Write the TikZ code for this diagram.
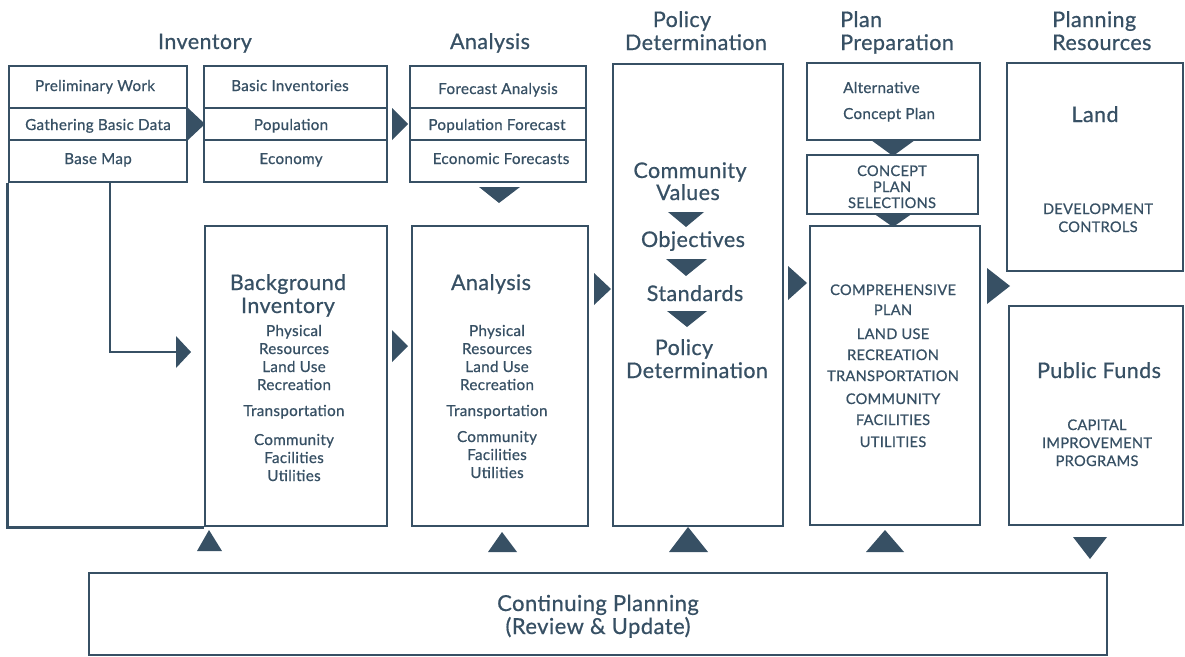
\documentclass[tikz,border=0pt]{standalone}
\usepackage{fontspec}
\setmainfont{Lato}[FakeBold=0.7, LetterSpace=2]
\definecolor{ink}{RGB}{55,80,100}
\begin{document}
\begin{tikzpicture}[x=1pt,y=-1pt,
  bx/.style={draw=ink, line width=2.6pt, inner sep=0pt},
  ln/.style={draw=ink, line width=2.6pt},
  tri/.style={fill=ink},
  txt/.style={text=ink, inner sep=0pt, anchor=base},
  sm/.style={txt, font=\fontsize{15.2}{16}\selectfont},
  big/.style={txt, font=\fontsize{21.5}{24}\selectfont},
  cp/.style={txt, font=\fontsize{14.6}{16}\selectfont},
]
\useasboundingbox (0,0) rectangle (1185,656);

% ---------- headers
\node[big] (hinv) at (205,49) {Inventory};
\node[big] (hana) at (490,49) {Analysis};
\node[big] (hpol1) at (682,27) {Policy};
\node[big] (hpol2) at (696,50) {Determination};
\node[big, anchor=base west] (hpp1) at (840,27) {Plan};
\node[big, anchor=base west] (hpp2) at (840,50) {Preparation};
\node[big, anchor=base west] (hpr1) at (1052,27) {Planning};
\node[big, anchor=base west] (hpr2) at (1052,50) {Resources};

% ---------- inventory top boxes
\node[bx, minimum width=178pt, minimum height=42pt] (prelim) at (98,87) {};
\node[bx, minimum width=178pt, minimum height=32pt] (gather) at (98,124) {};
\node[bx, minimum width=178pt, minimum height=42pt] (base) at (98,161) {};
\node[sm] (tprelim) at (95,91) {Preliminary Work};
\node[sm] (tgather) at (98,130) {Gathering Basic Data};
\node[sm] (tbase) at (98,164) {Base Map};

\node[bx, minimum width=183pt, minimum height=42pt] (basic) at (295.5,87) {};
\node[bx, minimum width=183pt, minimum height=32pt] (pop) at (295.5,124) {};
\node[bx, minimum width=183pt, minimum height=42pt] (econ) at (295.5,161) {};
\node[sm] (tbasic) at (290,91) {Basic Inventories};
\node[sm] (tpop) at (291,130) {Population};
\node[sm] (tecon) at (291,164) {Economy};

\node[bx, minimum width=176pt, minimum height=42pt] (fa) at (498,87) {};
\node[bx, minimum width=176pt, minimum height=32pt] (pf) at (498,124) {};
\node[bx, minimum width=176pt, minimum height=42pt] (ef) at (498,161) {};
\node[sm] (tfa) at (498,94) {Forecast Analysis};
\node[sm] (tpf) at (497,130) {Population Forecast};
\node[sm] (tef) at (501,164) {Economic Forecasts};

% ---------- big boxes
\node[bx, minimum width=182pt, minimum height=300pt] (bg) at (296,376) {};
\node[bx, minimum width=176pt, minimum height=300pt] (an) at (500,376) {};
\node[bx, minimum width=170pt, minimum height=462pt] (pol) at (698,295) {};
\node[bx, minimum width=173pt, minimum height=77pt] (alt) at (893.5,101.5) {};
\node[bx, minimum width=171pt, minimum height=59pt] (sel) at (892.5,184.5) {};
\node[bx, minimum width=170pt, minimum height=299pt] (comp) at (895,375.5) {};
\node[bx, minimum width=176pt, minimum height=208pt] (land) at (1095,167) {};
\node[bx, minimum width=174pt, minimum height=219pt] (pub) at (1096,415.5) {};
\node[bx, minimum width=1018pt, minimum height=82pt] (cont) at (598,614) {};

% ---------- background inventory text
\node[big] (tbg1) at (288,290) {Background};
\node[big] (tbg2) at (288,313) {Inventory};
\foreach \y/\t [count=\i] in {331/Physical, 349/Resources, 367/Land Use, 385/Recreation, 411/Transportation, 440/Community, 458/Facilities, 476/Utilities}
  \node[sm] (tbgs\i) at (294,\y+5) {\t};

% ---------- analysis text
\node[big] (tan1) at (491,290) {Analysis};
\foreach \y/\t [count=\i] in {331/Physical, 349/Resources, 367/Land Use, 385/Recreation, 411/Transportation, 437/Community, 455/Facilities, 473/Utilities}
  \node[sm] (tans\i) at (497,\y+5) {\t};

% ---------- policy text
\node[big] (tp1) at (690,178) {Community};
\node[big] (tp2) at (688,200) {Values};
\node[big] (tp3) at (693,247) {Objectives};
\node[big] (tp4) at (695,301) {Standards};
\node[big] (tp5) at (684,355) {Policy};
\node[big] (tp6) at (697,378) {Determination};
\fill[tri] (668,212) -- (704,212) -- (686,227) -- cycle;
\fill[tri] (666,259) -- (707,259) -- (686,276) -- cycle;
\fill[tri] (667,311) -- (707,311) -- (687,327) -- cycle;

% ---------- plan preparation text
\node[sm, anchor=base west] (talt1) at (843,93) {Alternative};
\node[sm, anchor=base west] (talt2) at (843,119) {Concept Plan};
\foreach \y/\t [count=\i] in {171/CONCEPT, 187/PLAN, 203/SELECTIONS}
  \node[cp] (tsel\i) at (892,\y+5) {\t};
\foreach \y/\t [count=\i] in {290/COMPREHENSIVE, 310/PLAN, 334/LAND USE, 355/RECREATION, 376/TRANSPORTATION, 399/COMMUNITY, 420/FACILITIES, 442/UTILITIES}
  \node[cp] (tcomp\i) at (893,\y+5) {\t};
\fill[tri] (871,140) -- (915,140) -- (893,156) -- cycle;
\fill[tri] (873,213) -- (913,213) -- (893,227) -- cycle;

% ---------- resources text
\node[big] (tland) at (1095,122) {Land};
\node[cp] (tdev1) at (1098,214) {DEVELOPMENT};
\node[cp] (tdev2) at (1098,232) {CONTROLS};
\node[big] (tpub) at (1099,378) {Public Funds};
\node[cp] (tcap1) at (1097,430) {CAPITAL};
\node[cp] (tcap2) at (1097,448) {IMPROVEMENT};
\node[cp] (tcap3) at (1097,466) {PROGRAMS};

% ---------- continuing planning
\node[txt, font=\fontsize{22}{23}\selectfont] (tc1) at (598,611) {Continuing Planning};
\node[txt, font=\fontsize{22}{23}\selectfont] (tc2) at (598,634) {(Review \& Update)};

% ---------- inventory frame and base map connector
\draw[ln] (base.south west) -- (base.south west |- bg.south) -- (bg.south west);
\coordinate (bmk) at (110,352);
\coordinate (bmend) at (180,352);
\draw[ln] (base.south -| bmk) -- (bmk) -- (bmend);
\fill[tri] (176,336) -- (191,352) -- (176,368) -- cycle;

% ---------- flow triangles
\fill[tri] (188,108) -- (205,124) -- (188,140) -- cycle;
\fill[tri] (392,108) -- (408,124) -- (392,140) -- cycle;
\fill[tri] (479,187) -- (520,187) -- (499,203) -- cycle;
\fill[tri] (392,330) -- (408,346) -- (392,362) -- cycle;
\fill[tri] (594,273) -- (611,289) -- (594,305) -- cycle;
\fill[tri] (788,266) -- (807,283) -- (788,300) -- cycle;
\fill[tri] (987,268) -- (1010,286) -- (987,304) -- cycle;

% ---------- feedback triangles
\fill[tri] (197,551) -- (209,530) -- (222,551) -- cycle;
\fill[tri] (488,552) -- (502,532) -- (517,552) -- cycle;
\fill[tri] (669,552) -- (688,527) -- (708,552) -- cycle;
\fill[tri] (866,552) -- (885,530) -- (904,552) -- cycle;
\fill[tri] (1073,537) -- (1107,537) -- (1090,559) -- cycle;
\end{tikzpicture}
\end{document}
